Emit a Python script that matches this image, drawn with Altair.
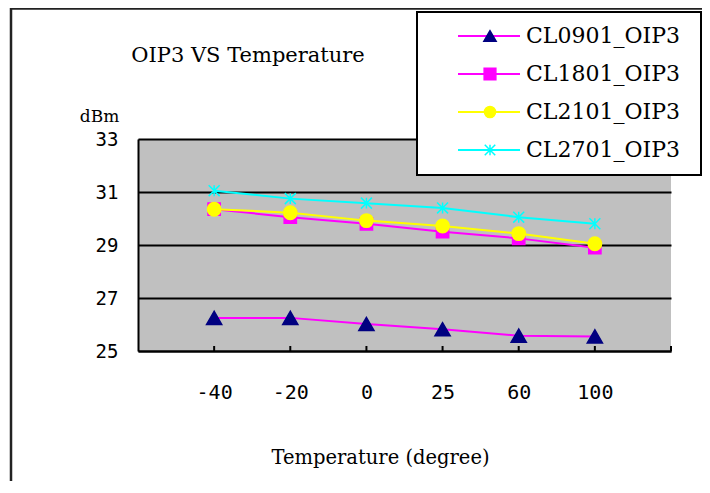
import altair as alt
import pandas as pd

# ---- data ----
temps = ["-40", "-20", "0", "25", "60", "100"]
series = ["CL0901_OIP3", "CL1801_OIP3", "CL2101_OIP3", "CL2701_OIP3"]
cl0901 = [26.25, 26.25, 26.02, 25.82, 25.58, 25.55]
cl1801 = [30.35, 30.05, 29.80, 29.50, 29.25, 28.90]
cl2101 = [30.35, 30.22, 29.92, 29.72, 29.43, 29.05]
cl2701 = [31.05, 30.75, 30.58, 30.40, 30.05, 29.80]
y_ticks = [25, 27, 29, 31, 33]
title_text = "OIP3 VS Temperature"
y_title = "dBm"
x_title = "Temperature (degree)"

values = [cl0901, cl1801, cl2101, cl2701]
rows = []
for s, vals in zip(series, values):
    for t, v in zip(temps, vals):
        rows.append({"series": s, "Temperature": t, "value": v})
df = pd.DataFrame(rows)
legend_df = pd.DataFrame({"series": series})
tick_df = pd.DataFrame({"Temperature": temps})

# ---- styles ----
line_colors = ["#FF00FF", "#FF00FF", "#FFFF00", "#00FFFF"]
marker_colors = ["#000080", "#FF00FF", "#FFFF00", "#00FFFF"]
star = "M-1,-1L1,1M1,-1L-1,1M0,-1L0,1"
shapes = ["triangle-up", "square", "circle", star]
marker_sizes = [230, 150, 180, 120]
legend_sizes = [150, 110, 140, 90]

W, H = 533, 212
serif = "DejaVu Serif"
mono = "DejaVu Sans Mono"

x_enc = alt.X(
    "Temperature:N",
    sort=temps,
    scale=alt.Scale(type="point", padding=1, domain=temps),
    axis=alt.Axis(
        labelAngle=0, ticks=False, grid=False,
        domain=True, domainColor="black", domainWidth=2,
        labelFont=mono, labelFontSize=20, labelColor="black", labelPadding=31,
        title=x_title, titleX=242, titleY=112, titleAlign="center",
        titleBaseline="alphabetic", titleFont=serif, titleFontSize=19.5,
        titleFontWeight="normal", titleColor="black",
    ),
)
y_enc = alt.Y(
    "value:Q",
    scale=alt.Scale(domain=[25, 33], nice=False, zero=False),
    axis=alt.Axis(
        values=y_ticks, grid=True, gridColor="black", gridWidth=2, ticks=False,
        domain=True, domainColor="black", domainWidth=2,
        labelFont=mono, labelFontSize=19, labelColor="black", labelPadding=20,
        title=y_title, titleAngle=0, titleX=-39, titleY=-23, titleAlign="center",
        titleBaseline="middle", titleFont=serif, titleFontSize=17,
        titleFontWeight="normal", titleColor="black",
    ),
)

one = alt.Data(values=[{}])

frame = alt.Chart(one).mark_rect(
    fill="white", fillOpacity=0, stroke="#222", strokeWidth=2.5
).encode(x=alt.value(-127), x2=alt.value(700), y=alt.value(-130.5), y2=alt.value(500))

base = alt.Chart(df).encode(x=x_enc, y=y_enc)

layers = [frame]
for i, s in enumerate(series):
    sub = base.transform_filter(alt.datum.series == s)
    layers.append(sub.mark_line(color=line_colors[i], strokeWidth=2))
    layers.append(
        sub.mark_point(
            shape=shapes[i], filled=True, fill=marker_colors[i],
            stroke=marker_colors[i], strokeWidth=1.5, size=marker_sizes[i], opacity=1,
        )
    )

ticks = alt.Chart(tick_df).mark_rule(color="black", strokeWidth=2).encode(
    x=alt.X("Temperature:N", sort=temps), y=alt.value(H - 5), y2=alt.value(H)
)
edge_tick = alt.Chart(one).mark_rule(color="black", strokeWidth=2).encode(
    x=alt.value(W), y=alt.value(H - 5), y2=alt.value(H)
)
title = alt.Chart(one).mark_text(
    font=serif, fontSize=21, color="black", align="center", baseline="middle"
).encode(x=alt.value(110), y=alt.value(-83), text=alt.value(title_text))

main = alt.layer(*layers, ticks, edge_tick, title)

# ---- custom legend ----
leg_y = alt.Y("series:N", scale=alt.Scale(type="point", domain=series, range=[-103, 11], padding=0), axis=None)
leg_box = alt.Chart(one).mark_rect(fill="white", stroke="black", strokeWidth=2).encode(
    x=alt.value(279), x2=alt.value(563), y=alt.value(-127), y2=alt.value(36)
)
leg_lines = alt.Chart(legend_df).mark_rule(strokeWidth=2).encode(
    y=leg_y, x=alt.value(320), x2=alt.value(382),
    color=alt.Color("series:N", scale=alt.Scale(domain=series, range=line_colors), legend=None),
)
leg_pts = alt.Chart(legend_df).mark_point(filled=True, strokeWidth=1.5, opacity=1).encode(
    y=leg_y, x=alt.value(352),
    shape=alt.Shape("series:N", scale=alt.Scale(domain=series, range=shapes), legend=None),
    size=alt.Size("series:N", scale=alt.Scale(domain=series, range=legend_sizes), legend=None),
    fill=alt.Fill("series:N", scale=alt.Scale(domain=series, range=marker_colors), legend=None),
    stroke=alt.Stroke("series:N", scale=alt.Scale(domain=series, range=marker_colors), legend=None),
)
leg_text = alt.Chart(legend_df).mark_text(
    font=serif, fontSize=22, color="black", align="left", baseline="middle"
).encode(y=leg_y, x=alt.value(388), text="series:N")

legend = alt.layer(leg_box, leg_lines, leg_pts, leg_text)

chart = (
    alt.layer(main, legend)
    .resolve_scale(y="independent", x="independent")
    .properties(
        width=W, height=H,
        autosize=alt.AutoSizeParams(type="none"),
        padding={"left": 130, "top": 131, "right": 31, "bottom": 130},
        background="white",
    )
    .configure_view(fill="#C0C0C0", strokeWidth=0)
)

chart.save("out.html", embed_options={"renderer": "svg", "actions": False})
